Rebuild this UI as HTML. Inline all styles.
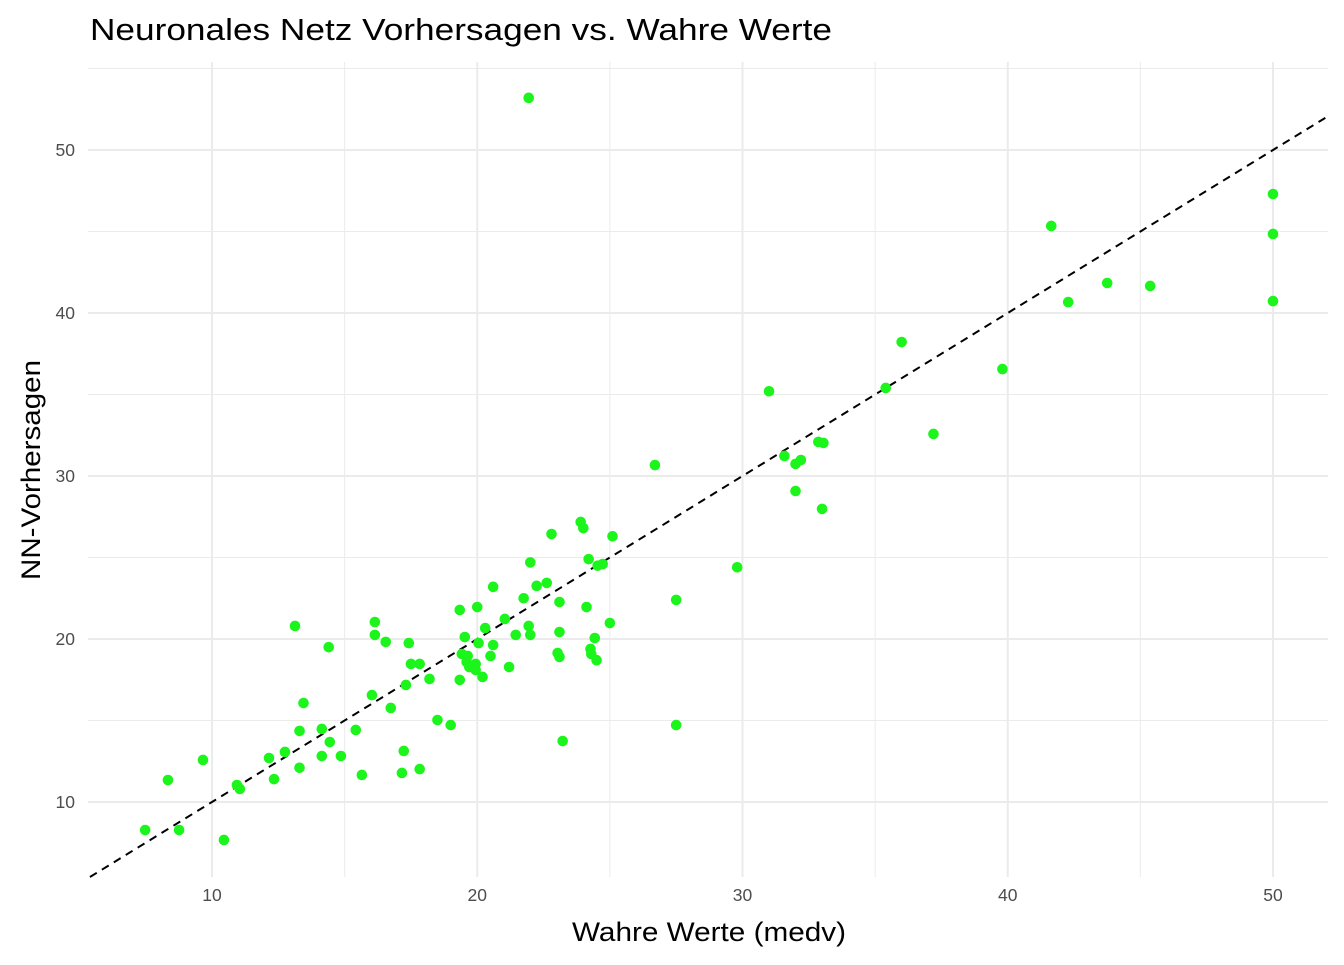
<!DOCTYPE html>
<html><head><meta charset="utf-8"><style>
body{margin:0;background:#fff;}
svg text{font-family:"Liberation Sans",Arial,sans-serif;}
</style></head><body>
<svg id="chart" width="1344" height="960" xmlns="http://www.w3.org/2000/svg">
<text x="90" y="40" font-size="31" fill="#000" textLength="742" lengthAdjust="spacingAndGlyphs">Neuronales Netz Vorhersagen vs. Wahre Werte</text>
<g id="grid"></g>
<g id="ticks"></g>
<line id="diag" stroke="#000" stroke-width="2" stroke-dasharray="8,6"/>
<g id="pts"></g>
<text x="709" y="941" font-size="27" text-anchor="middle" fill="#000" textLength="274" lengthAdjust="spacingAndGlyphs">Wahre Werte (medv)</text>
<text transform="translate(40,470) rotate(-90)" font-size="27" text-anchor="middle" fill="#000" textLength="220" lengthAdjust="spacingAndGlyphs">NN-Vorhersagen</text>
</svg>
<script>
const xTicks=[10,20,30,40,50];
const yTicks=[10,20,30,40,50];
const trueVals=[7.48,8.34,8.76,9.66,10.45,10.94,11.05,12.15,12.34,12.75,13.13,13.3,13.3,13.45,14.14,14.14,14.4,14.44,14.86,15.42,15.65,16.03,16.14,16.14,16.55,16.74,17.16,17.23,17.31,17.42,17.5,17.83,17.83,18.2,18.5,19.0,19.34,19.34,19.42,19.53,19.6,19.64,19.7,19.94,19.94,20.0,20.05,20.2,20.3,20.5,20.6,20.6,21.04,21.2,21.45,21.75,21.94,21.94,22.0,22.0,22.24,22.62,22.8,23.03,23.1,23.1,23.1,23.22,23.9,24.0,24.12,24.2,24.27,24.3,24.43,24.5,24.54,24.73,25.0,25.1,26.7,27.5,27.5,29.8,31.0,31.58,32.0,32.0,32.2,32.86,33.05,33.0,35.4,36.0,37.2,39.8,41.64,42.28,43.75,45.37,50,50,50];
const predVals=[8.28,11.35,8.28,12.58,7.67,11.04,10.8,12.7,11.4,13.07,20.8,12.1,14.36,16.07,14.48,12.82,19.5,13.68,12.82,14.42,11.66,16.56,21.04,20.25,19.82,15.77,11.78,13.13,17.18,19.75,18.47,18.47,12.02,17.55,15.03,14.72,21.78,17.49,19.08,20.12,18.59,18.96,18.28,18.47,18.1,21.96,19.75,17.67,20.67,18.96,19.63,23.2,21.23,18.28,20.25,22.5,53.2,20.8,20.25,24.7,23.26,23.44,26.44,19.14,20.43,22.27,18.9,13.74,27.18,26.8,21.96,24.9,19.39,19.08,20.06,18.7,24.5,24.6,20.98,26.3,30.67,22.4,14.72,24.4,35.2,31.23,30.74,29.08,30.98,32.09,32.03,27.98,35.4,38.22,32.58,36.56,45.34,40.67,41.84,41.66,47.3,44.85,40.73];
const NS="http://www.w3.org/2000/svg";
const L=88,R=1328,T=62,B=877;
const xs=v=>212+(v-10)*26.525;
const ys=v=>802-(v-10)*16.3;
const xMin=(L-212)/26.525+10,xMax=(R-212)/26.525+10;
const yMin=10-(B-802)/16.3,yMax=10+(802-T)/16.3;
const grid=document.getElementById('grid'),ticks=document.getElementById('ticks');
function ln(g,x1,y1,x2,y2,w,c){const l=document.createElementNS(NS,'line');l.setAttribute('x1',x1);l.setAttribute('y1',y1);l.setAttribute('x2',x2);l.setAttribute('y2',y2);l.setAttribute('stroke',c);l.setAttribute('stroke-width',w);g.appendChild(l);return l;}
for(let v=5;v<=55;v+=5){const major=v%10===0;const w=major?2:1;
 if(v>xMin&&v<xMax){const l=ln(grid,xs(v),T,xs(v),B,w,'#ebebeb');

}
 if(v>yMin&&v<yMax){const l=ln(grid,L,ys(v),R,ys(v),w,'#ebebeb');

}}
xTicks.forEach(v=>{const t=document.createElementNS(NS,'text');t.setAttribute('x',xs(v));t.setAttribute('y',901);t.setAttribute('font-size','17.5');t.setAttribute('fill','#4d4d4d');t.setAttribute('text-anchor','middle');t.textContent=v;


ticks.appendChild(t);});
yTicks.forEach(v=>{const t=document.createElementNS(NS,'text');t.setAttribute('x',75);t.setAttribute('y',ys(v)+6);t.setAttribute('font-size','17.5');t.setAttribute('fill','#4d4d4d');t.setAttribute('text-anchor','end');t.textContent=v;


ticks.appendChild(t);});
const d=document.getElementById('diag');
const a=Math.max(xMin,yMin),b=Math.min(xMax,yMax);
d.setAttribute('x1',xs(a));d.setAttribute('y1',ys(a));d.setAttribute('x2',xs(b));d.setAttribute('y2',ys(b));
const pts=document.getElementById('pts');
trueVals.forEach((v,i)=>{const c=document.createElementNS(NS,'circle');c.setAttribute('cx',xs(v));c.setAttribute('cy',ys(predVals[i]));c.setAttribute('r',5.3);c.setAttribute('fill','#1cf51c');


pts.appendChild(c);});
</script>
</body></html>
